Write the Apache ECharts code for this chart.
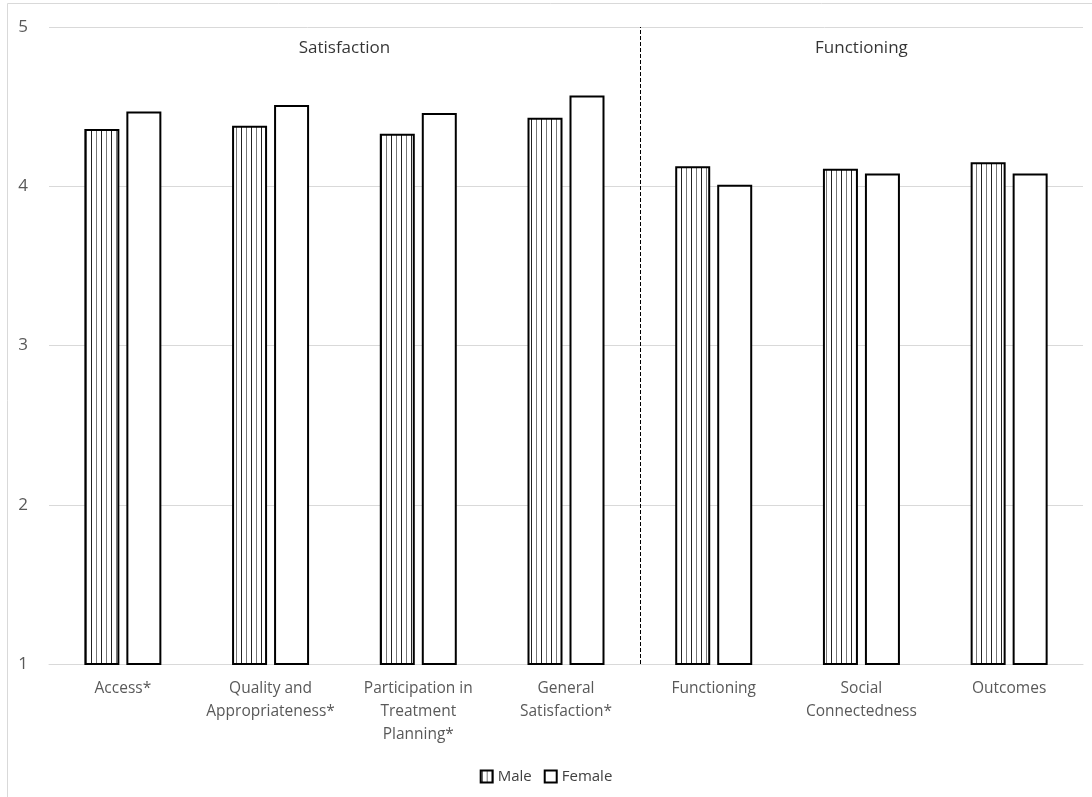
<!DOCTYPE html>
<html><head><meta charset="utf-8">
<script src="https://cdn.jsdelivr.net/npm/echarts@6/dist/echarts.min.js"></script>
<style>html,body{margin:0;padding:0;background:#fff}#c{width:1092px;height:797px}</style>
</head><body><div id="c"></div>
<script>
const categories = ["Access*", "Quality and\nAppropriateness*", "Participation in\nTreatment\nPlanning*", "General\nSatisfaction*", "Functioning", "Social\nConnectedness", "Outcomes"];
const maleValues = [4.36, 4.38, 4.33, 4.43, 4.125, 4.11, 4.15];
const femaleValues = [4.47, 4.51, 4.46, 4.57, 4.01, 4.08, 4.08];
const yTicks = [1, 2, 3, 4, 5];
const sectionLabels = [["Satisfaction", 2, 4.87], ["Functioning", 5.5, 4.87]];
const dividerAt = 4;

const pc = document.createElement('canvas');
pc.width = 10; pc.height = 4;
const g = pc.getContext('2d');
g.fillStyle = '#fff'; g.fillRect(0,0,10,4);
g.fillStyle = '#222'; g.fillRect(1,0,1,4);
g.fillStyle = '#777'; g.fillRect(6,0,1,4);

const chart = echarts.init(document.getElementById('c'), null, {renderer:'canvas'});
chart.setOption({
  animation:false,
  textStyle:{fontFamily:'Open Sans'},
  graphic:[{type:'rect', shape:{x:7.5,y:3.5,width:1200,height:900}, style:{fill:'none', stroke:'#d9d9d9', lineWidth:1}, silent:true, z:-1}],
  grid:{left:49, right:9, top:27, bottom:133},
  legend:{bottom:8, left:'center', icon:'rect', itemWidth:12, itemHeight:12, itemGap:12,
    textStyle:{fontSize:15, color:'#404040', fontFamily:'Open Sans'},
    data:['Male','Female']},
  xAxis:[{type:'category', data:categories, axisTick:{show:false},
    axisLine:{lineStyle:{color:'#d9d9d9'}},
    axisLabel:{fontSize:15.5, color:'#595959', lineHeight:23, margin:13, interval:0}},
    {type:'value', min:0, max:7, show:false}],
  yAxis:{type:'value', min:1, max:5, interval:1,
    axisLine:{show:false}, axisTick:{show:false},
    splitLine:{lineStyle:{color:'#d9d9d9'}},
    axisLabel:{fontSize:17, color:'#595959', margin:21,
      formatter:v=>yTicks.includes(v)?String(v):''}},
  series:[
    {name:'Male', type:'bar', data:maleValues, barWidth:35, barGap:'20%',
      itemStyle:{color:{image:pc, repeat:'repeat'}, borderColor:'#000', borderWidth:2}},
    {name:'Female', type:'bar', data:femaleValues, barWidth:35,
      itemStyle:{color:'#fff', borderColor:'#000', borderWidth:2}},
    {type:'scatter', xAxisIndex:1, symbolSize:0, silent:true,
      data:sectionLabels.map(s=>({value:[s[1], s[2]], name:s[0]})),
      label:{show:true, position:'inside', formatter:p=>p.name, fontSize:17, color:'#000'},
      markLine:{silent:true, symbol:'none', label:{show:false},
        lineStyle:{type:'dashed', color:'#000', width:1},
        data:[{xAxis:dividerAt}]}}
  ]
});
</script></body></html>
